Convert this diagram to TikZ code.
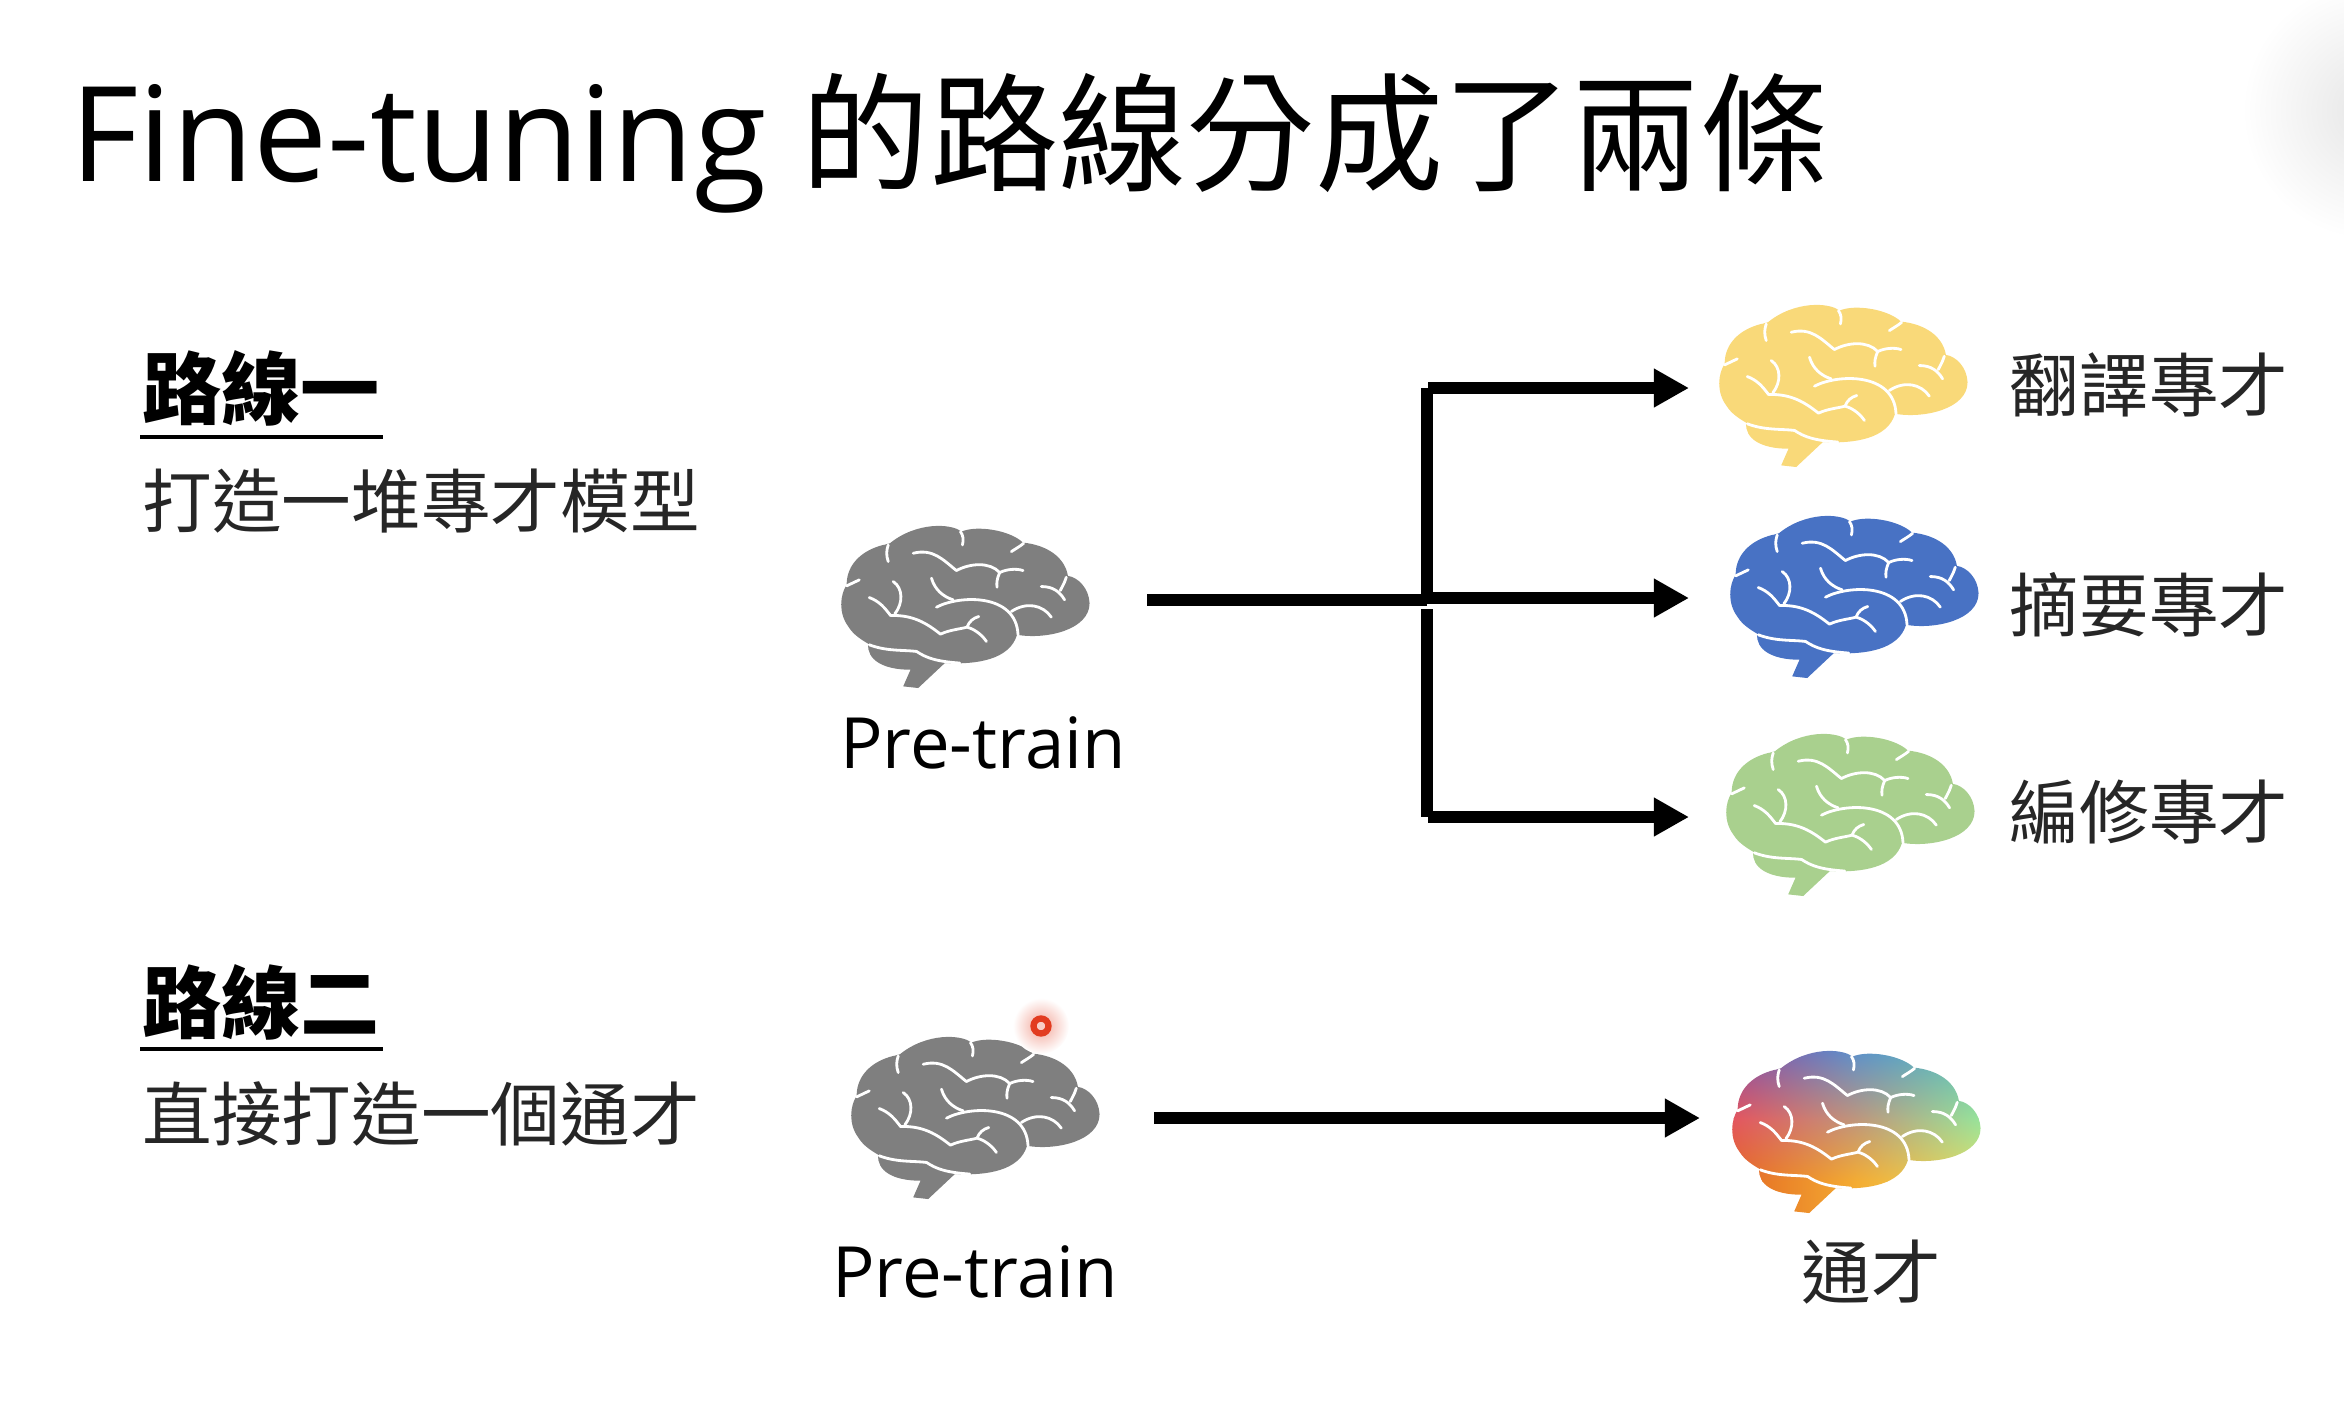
\documentclass[tikz,border=0pt]{standalone}
\usepackage{fontspec}
\usepackage{tikz}
\usetikzlibrary{calc,arrows.meta,shadings}
\setmainfont{Open Sans}
\newfontfamily\cjk{Noto Sans CJK TC}
\newcommand{\brainoutline}{(250,560) -- (295,565) -- (375,490)
  .. controls (470,495) and (570,480) .. (592,405)
  .. controls (680,420) and (810,390) .. (810,310)
  .. controls (808,265) and (775,232) .. (745,228)
  .. controls (735,170) and (680,135) .. (610,128)
  .. controls (570,90) and (470,75) .. (425,95)
  .. controls (395,70) and (290,65) .. (210,130)
  .. controls (190,135) and (195,135) .. (190,135)
  .. controls (130,150) and (80,190) .. (80,255)
  .. controls (60,285) and (55,340) .. (85,380)
  .. controls (100,405) and (125,420) .. (145,432)
  .. controls (140,480) and (190,510) .. (272,510) -- cycle}
\definecolor{gbrain}{RGB}{127,127,127}
\definecolor{ybrain}{RGB}{249,217,121}
\definecolor{bbrain}{RGB}{72,114,196}
\definecolor{lbrain}{RGB}{169,208,142}
\definecolor{rtl}{RGB}{135,75,165}
\definecolor{rtc}{RGB}{90,145,205}
\definecolor{rtr}{RGB}{90,195,185}
\definecolor{rml}{RGB}{228,85,95}
\definecolor{rmc}{RGB}{190,150,125}
\definecolor{rmr}{RGB}{150,228,155}
\definecolor{rbl}{RGB}{228,105,35}
\definecolor{rbc}{RGB}{244,172,50}
\definecolor{rbr}{RGB}{228,225,105}
\definecolor{dotred}{RGB}{226,60,32}
\tikzset{
  crease/.style={draw=white,line width=0.8pt,line cap=round,line join=round,x=0.00333cm,y=-0.00333cm},
  bline/.style={line width=3.4pt,draw=black},
  barrow/.style={bline,-{Triangle[length=10pt,width=10.4pt]}},
  pics/creases/.style={code={
    \draw[crease] (205,185) .. controls (198,165) and (200,150) .. (205,135);
    \draw[crease] (428,135) .. controls (432,120) and (430,105) .. (422,95);
    \draw[crease] (575,155) .. controls (590,145) and (600,140) .. (612,130);
    \draw[crease] (80,258) -- (118,240);
    \draw[crease] (280,160) .. controls (340,145) and (370,180) .. (410,212)
      .. controls (450,190) and (510,185) .. (540,218) .. controls (560,208) and (590,205) .. (610,212);
    \draw[crease] (540,218) .. controls (532,235) and (530,250) .. (532,262);
    \draw[crease] (740,232) .. controls (735,250) and (725,265) .. (722,272);
    \draw[crease] (665,260) .. controls (700,260) and (720,275) .. (735,300);
    \draw[crease] (335,235) .. controls (345,270) and (370,290) .. (400,300);
    \draw[crease] (350,322) .. controls (420,285) and (590,280) .. (595,405);
    \draw[crease] (575,335) .. controls (620,305) and (670,315) .. (695,352);
    \draw[crease] (148,435) .. controls (200,455) and (250,450) .. (290,455)
      .. controls (320,475) and (350,485) .. (420,490);
    \draw[crease] (148,293) .. controls (180,305) and (195,325) .. (212,347)
      .. controls (280,345) and (320,370) .. (362,403) .. controls (390,390) and (420,388) .. (442,382)
      .. controls (470,390) and (490,410) .. (500,425);
    \draw[crease] (442,382) .. controls (448,365) and (460,355) .. (477,350);
    \draw[crease] (220,245) .. controls (250,265) and (250,310) .. (225,342);
  }},
  pics/brain/.style={code={
    \fill[x=0.00333cm,y=-0.00333cm,#1] \brainoutline;
    \pic {creases};
  }},
  title/.style={anchor=base west,inner sep=0pt,font=\fontsize{37.6pt}{37.6pt}\selectfont},
  cjktitle/.style={anchor=base west,inner sep=0pt,font=\fontsize{36.5pt}{36.5pt}\selectfont\cjk},
  head/.style={anchor=base west,inner sep=0pt,font=\fontsize{22.5pt}{22.5pt}\selectfont\cjk\bfseries},
  desc/.style={anchor=base west,inner sep=0pt,text=black!85,font=\fontsize{19.8pt}{19.8pt}\selectfont\cjk},
  label/.style={inner sep=0pt,text=black!85,font=\fontsize{19.8pt}{19.8pt}\selectfont\cjk},
  pretrain/.style={anchor=base,inner sep=0pt,font=\fontsize{20.1pt}{20.1pt}\selectfont},
}
\begin{document}
\begin{tikzpicture}[x=0.01cm,y=-0.01cm]
  \useasboundingbox (0,0) rectangle (2344,1408);
  % title
  \node[title] (ttl) at (70,181) {Fine-tuning};
  \node[cjktitle] (ttlc) at (801,181) {的路線分成了兩條};
  % left column
  \node[head] (hone) at (142,418) {路線一};
  \draw[line width=1.1pt] (140,437) -- (383,437);
  \node[desc] (done) at (142,527) {打造一堆專才模型};
  \node[head] (htwo) at (142,1032) {路線二};
  \draw[line width=1.1pt] (140,1049) -- (383,1049);
  \node[desc] (dtwo) at (142,1140) {直接打造一個通才};
  % brains
  \pic at (820,500) {brain={gbrain}};
  \pic at (1698,279) {brain={ybrain}};
  \pic at (1709,490) {brain={bbrain}};
  \pic at (1705,708) {brain={lbrain}};
  \pic at (830,1011) {brain={gbrain}};
  \begin{scope}[shift={(1711,1025)}]
    \begin{scope}[x=0.00333cm,y=-0.00333cm]
      \clip \brainoutline;
      \shade[upper left=rtl,upper right=rtc,lower left=rml,lower right=rmc] (60,70) rectangle (436,281);
      \shade[upper left=rtc,upper right=rtr,lower left=rmc,lower right=rmr] (435,70) rectangle (815,281);
      \shade[upper left=rml,upper right=rmc,lower left=rbl,lower right=rbc] (60,280) rectangle (436,471);
      \shade[upper left=rmc,upper right=rmr,lower left=rbc,lower right=rbr] (435,280) rectangle (815,471);
      \shade[left color=rbl,right color=rbc] (60,470) rectangle (436,570);
      \shade[left color=rbc,right color=rbr] (435,470) rectangle (815,570);
    \end{scope}
    \pic {creases};
  \end{scope}
  % labels
  \node[pretrain] (pone) at (983,768) {Pre-train};
  \node[pretrain] (ptwo) at (975,1297) {Pre-train};
  \node[label] (lyel) at (2149,385) {翻譯專才};
  \node[label] (lblu) at (2149,605) {摘要專才};
  \node[label] (lgrn) at (2149,812) {編修專才};
  \node[label] (lall) at (1871,1272) {通才};
  % connectors
  \coordinate (src1) at (1147,600);
  \coordinate (hub) at (1427,598);
  \coordinate (up) at (1427,388);
  \coordinate (dn) at (1427,817);
  \coordinate (low) at (1427,609);
  \coordinate (ayel) at (1689,388);
  \coordinate (ablu) at (1689,598);
  \coordinate (agrn) at (1689,817);
  \coordinate (src2) at (1154,1118);
  \coordinate (aall) at (1700,1118);
  \draw[bline] (src1) -- (hub |- src1);
  \draw[bline] (hub) -- (up);
  \draw[bline] (low) -- (dn);
  \draw[barrow] ($(up)+(1,0)$) -- (ayel);
  \draw[barrow] (hub) -- (ablu);
  \draw[barrow] ($(dn)+(1,0)$) -- (agrn);
  \draw[barrow] (src2) -- (aall);
  % pointer dot
  \shade[inner color=dotred!45,outer color=white] (1041,1026) circle (28);
  \fill[dotred!25] (1041,1026) circle (7);
  \draw[dotred,line width=1.8pt] (1041,1026) circle (7.5);
  % smear in the corner
  \begin{scope}
    \clip (2200,0) rectangle (2344,300);
    \shade[inner color=black!10,outer color=white] (2372,110) circle (130);
  \end{scope}
\end{tikzpicture}
\end{document}
